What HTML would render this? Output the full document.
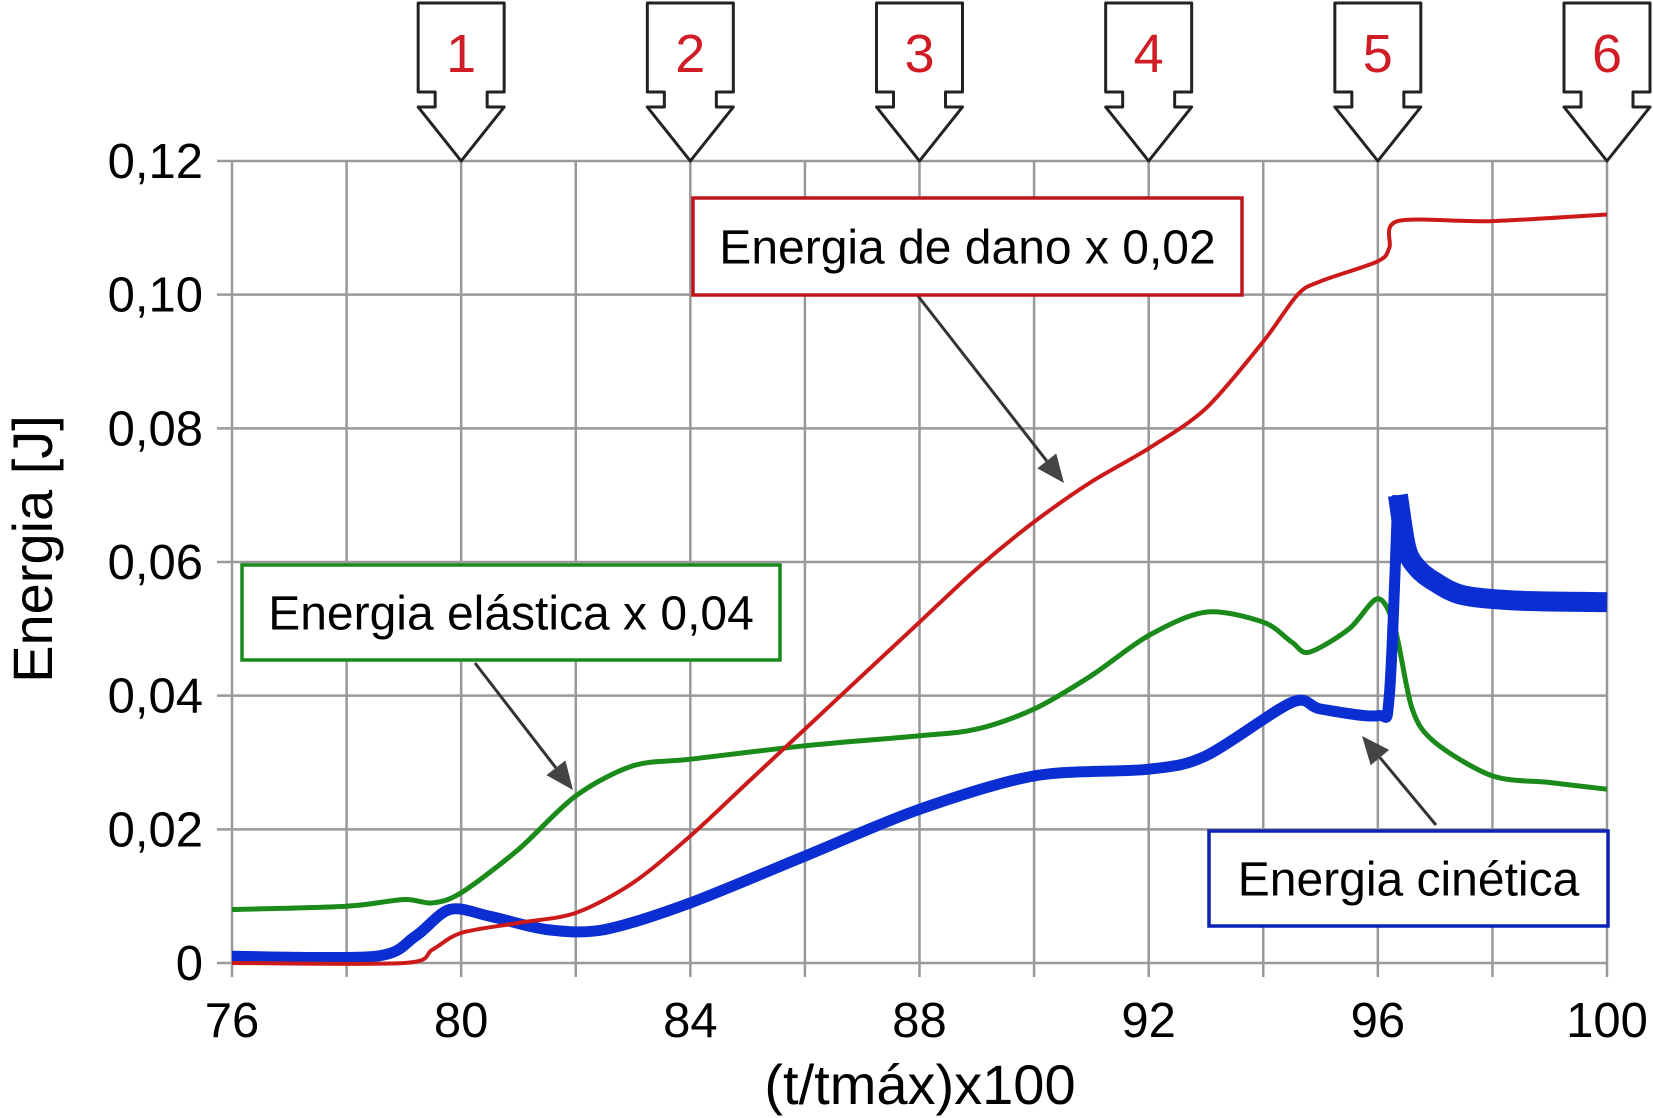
<!DOCTYPE html>
<html><head><meta charset="utf-8"><style>
html,body{margin:0;padding:0;background:#fff;}
svg{display:block;font-family:"Liberation Sans",Arial,sans-serif;}
</style></head><body>
<svg id="chart" width="1653" height="1118" viewBox="0 0 1653 1118">
<g id="grid"></g>
<g id="series"></g>
<g id="markers"></g>
<g id="axes"></g>
<g id="annot"></g>
</svg>
<script>
const xTicks=[76,78,80,82,84,86,88,90,92,94,96,98,100];
const xLabels=["76","","80","","84","","88","","92","","96","","100"];
const yTicks=[0,0.02,0.04,0.06,0.08,0.10,0.12];
const yLabels=["0","0,02","0,04","0,06","0,08","0,10","0,12"];
const markerX=[80,84,88,92,96,100];
const markerLabels=["1","2","3","4","5","6"];
const danoX=[76,79,79.5,80,81,82,83,84,85,86,87,88,89,90,91,92,93,94,94.6,95,96,96.2,96.35,98,100];
const danoY=[0,0,0.002,0.0045,0.006,0.0075,0.012,0.019,0.027,0.035,0.043,0.051,0.059,0.066,0.072,0.077,0.083,0.093,0.1,0.102,0.105,0.107,0.111,0.111,0.112];
const elastX=[76,78,79,79.5,80,81,82,83,84,86,88,89,90,91,92,93,94,94.5,94.8,95.5,96,96.3,96.6,97,98,99,100];
const elastY=[0.008,0.0085,0.0095,0.009,0.0105,0.017,0.025,0.0295,0.0305,0.0325,0.034,0.035,0.038,0.043,0.049,0.0525,0.051,0.048,0.0465,0.05,0.0545,0.05,0.038,0.033,0.028,0.027,0.026];
const kinX=[76,78.5,79.2,79.8,80.5,81.5,82.5,84,86,88,90,92,93,94.5,95,96,96.2,96.35];
const kinY=[0.001,0.001,0.004,0.008,0.007,0.005,0.005,0.009,0.016,0.023,0.028,0.029,0.031,0.039,0.038,0.037,0.04,0.07];
const kin2X=[96.35,96.5,96.7,97,97.5,98.5,100];
const kin2Y=[0.07,0.062,0.059,0.057,0.055,0.0542,0.054];

const NS="http://www.w3.org/2000/svg";
const X=v=>232+(v-76)*(1607-232)/24;
const Y=v=>963-v*(963-161)/0.12;
function mk(tag,attrs,parent,text){const e=document.createElementNS(NS,tag);for(const k in attrs)e.setAttribute(k,attrs[k]);if(text!==undefined)e.textContent=text;parent.appendChild(e);return e;}
const grid=document.getElementById('grid'),series=document.getElementById('series'),axes=document.getElementById('axes'),markers=document.getElementById('markers'),annot=document.getElementById('annot');

xTicks.forEach((t,i)=>{
 const l=mk('line',{x1:X(t),x2:X(t),y1:Y(0.12),y2:Y(0)+14,stroke:'#999','stroke-width':2.5},grid);
 
 
 if(xLabels[i]){const tx=mk('text',{x:X(t),y:1037,'font-size':49,'text-anchor':'middle',fill:'#000'},axes,xLabels[i]);
 
 }
});
yTicks.forEach((t,i)=>{
 const l=mk('line',{x1:X(76)-15,x2:X(100),y1:Y(t),y2:Y(t),stroke:'#999','stroke-width':2.5},grid);
 
 
 const tx=mk('text',{x:203,y:Y(t)+17,'font-size':49,'text-anchor':'end',fill:'#000'},axes,yLabels[i]);
 
 
});
const yt=mk('text',{x:0,y:0,'font-size':56,'text-anchor':'middle',transform:'translate(52,549) rotate(-90)'},axes,'Energia [J]');


const xt=mk('text',{x:920,y:1104,'font-size':56,'text-anchor':'middle'},axes,'(t/tmáx)x100');



function path(xs,ys){
 const p=xs.map((v,i)=>[X(v),Y(ys[i])]);
 let d='M'+p[0][0].toFixed(1)+' '+p[0][1].toFixed(1);
 for(let i=0;i<p.length-1;i++){
  const p0=p[Math.max(0,i-1)],p1=p[i],p2=p[i+1],p3=p[Math.min(p.length-1,i+2)];
  const t=0.15;
  const c1=[p1[0]+(p2[0]-p0[0])*t,p1[1]+(p2[1]-p0[1])*t];
  const c2=[p2[0]-(p3[0]-p1[0])*t,p2[1]-(p3[1]-p1[1])*t];
  d+=` C${c1[0].toFixed(1)} ${c1[1].toFixed(1)} ${c2[0].toFixed(1)} ${c2[1].toFixed(1)} ${p2[0].toFixed(1)} ${p2[1].toFixed(1)}`;
 }
 return d;
}
const pe=mk('path',{d:path(elastX,elastY),fill:'none',stroke:'#1a8a1a','stroke-width':5,'stroke-linejoin':'round'},series);


const pk=mk('path',{d:path(kinX,kinY),fill:'none',stroke:'#0a2ed1','stroke-width':11,'stroke-linejoin':'round'},series);


const pk2=mk('path',{d:path(kin2X,kin2Y),fill:'none',stroke:'#0a2ed1','stroke-width':20,'stroke-linejoin':'round'},series);


const pd=mk('path',{d:path(danoX,danoY),fill:'none',stroke:'#cc1a1a','stroke-width':4,'stroke-linejoin':'round'},series);



markerX.forEach((v,i)=>{
 const c=X(v),t=161,h=43,n=17;
 const d=`M${c-h} 3 L${c+h} 3 L${c+h} 92 L${c+h-n} 92 L${c+h-n} 107 L${c+h} 107 L${c} ${t} L${c-h} 107 L${c-h+n} 107 L${c-h+n} 92 L${c-h} 92 Z`;
 const p=mk('path',{d:d,fill:'#fff',stroke:'#222','stroke-width':3,'stroke-linejoin':'round'},markers);
 
 
 const tx=mk('text',{x:c,y:72,'font-size':54,'text-anchor':'middle',fill:'#d01c24'},markers,markerLabels[i]);
 
 
});

function arrow(x1,y1,x2,y2,name){
 const g=mk('g',{},annot);
 
 
 const a=Math.atan2(y2-y1,x2-x1),L=28,W=12;
 const bx=x2-L*Math.cos(a),by=y2-L*Math.sin(a);
 mk('line',{x1:x1,y1:y1,x2:bx,y2:by,stroke:'#333','stroke-width':3},g);
 mk('polygon',{points:`${x2},${y2} ${bx+W*Math.sin(a)},${by-W*Math.cos(a)} ${bx-W*Math.sin(a)},${by+W*Math.cos(a)}`,fill:'#444'},g);
}
function box(x,y,w,h,col,text,name){
 const g=mk('g',{},annot);
 
 
 mk('rect',{x:x,y:y,width:w,height:h,fill:'#fff',stroke:col,'stroke-width':3.5},g);
 mk('text',{x:x+w/2,y:y+h/2+17,'font-size':48,'text-anchor':'middle',fill:'#000'},g,text);
}
arrow(918,296,1064,483,'damage-arrow');
arrow(475,663,573,790,'elastic-arrow');
arrow(1436,825,1362,736,'kinetic-arrow');
box(693,198,549,97,'#c0141c','Energia de dano x 0,02','damage-label');
box(242,565,538,95,'#1a8a1a','Energia elástica x 0,04','elastic-label');
box(1209,831,399,95,'#0a22b8','Energia cinética','kinetic-label');
</script>
</body></html>
